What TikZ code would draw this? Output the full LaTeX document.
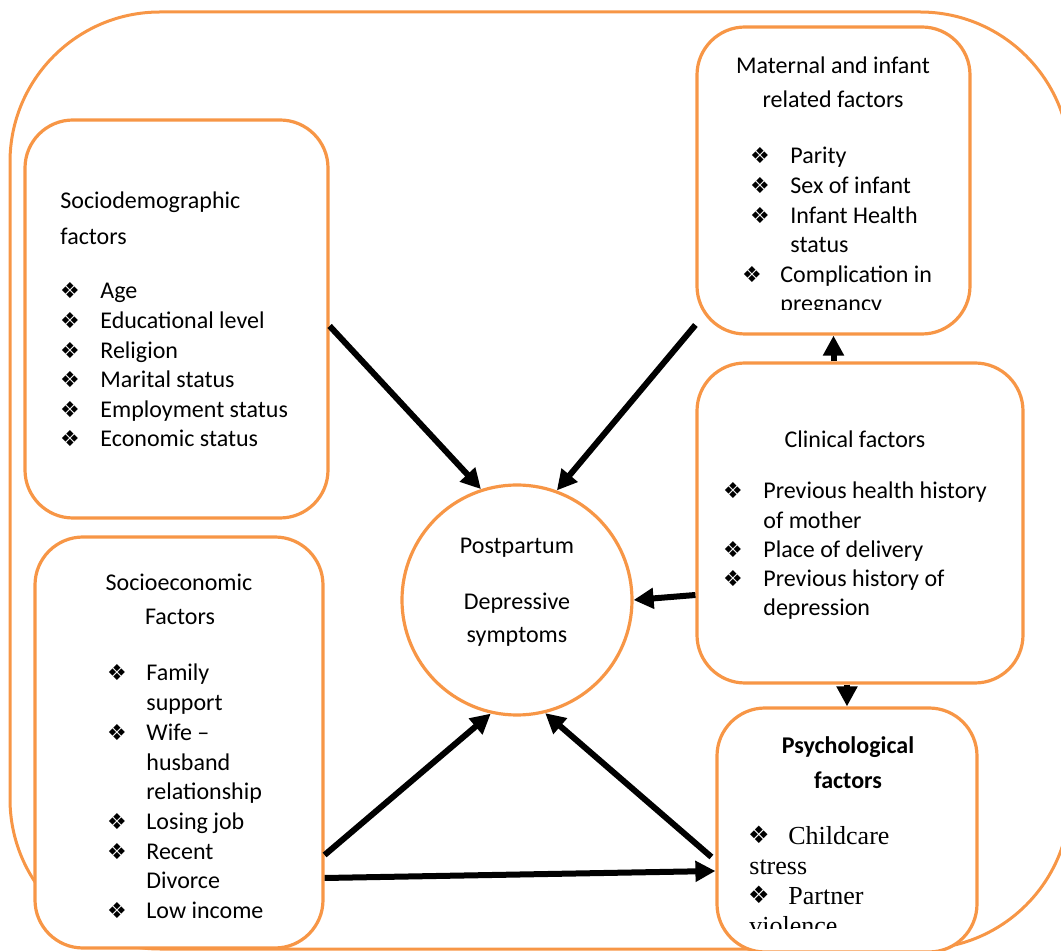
\documentclass[tikz,border=0pt]{standalone}
\usepackage{fontspec}
\setmainfont{Carlito}
\newfontfamily\tnr{Liberation Serif}
\newfontfamily\dvs{DejaVu Sans}
\usetikzlibrary{arrows.meta}
\definecolor{ora}{HTML}{F79646}
\begin{document}
\begin{tikzpicture}[x=0.5pt,y=-0.5pt,
  frame/.style={draw=ora, line width=1.5pt, rounded corners=75pt},
  box/.style={draw=ora, line width=1.6pt, fill=white, rounded corners=24pt, inner sep=0pt},
  arr/.style={line width=3pt, -{Triangle[length=10pt,width=10pt]}},
  txt/.style={anchor=base west, inner sep=0pt, font=\fontsize{12}{14}\selectfont},
  ctr/.style={anchor=base, inner sep=0pt, font=\fontsize{12}{14}\selectfont},
  bul/.style={anchor=base, inner sep=0pt, font=\dvs\fontsize{11}{12}\selectfont},
  tbul/.style={anchor=base, inner sep=0pt, font=\dvs\fontsize{12}{13}\selectfont},
  ttxt/.style={anchor=base west, inner sep=0pt, font=\tnr\fontsize{13}{15}\selectfont}]
\useasboundingbox (0,0) rectangle (1061,951);
\clip (0,0) rectangle (1061,951);
% outer frame
\draw[frame] (10,12) rectangle (1070,949);
% boxes
\node[box, minimum width=151.5pt, minimum height=199pt] (sd) at (176.5,319) {};
\node[box, minimum width=136.5pt, minimum height=153.5pt] (mat) at (833.5,180.5) {};
\node[box, minimum width=163pt, minimum height=160pt] (cl) at (860,523) {};
\node[box, minimum width=130pt, minimum height=122pt] (ps) at (847,830) {};
\node[box, minimum width=144pt, minimum height=205.5pt] (se) at (179,742.5) {};
\node[draw=ora, line width=1.6pt, fill=white, circle, minimum size=115pt, inner sep=0pt] (pp) at (517,600) {};
% arrows
\draw[arr] (sd.east |- 0,326) -- (pp.108);
\draw[arr] (mat.west |- 0,325) -- (pp.70);
\draw[arr] (cl.west |- 0,595) -- (pp.east);
\draw[arr] (se.east |- 0,855) -- (pp.257);
\draw[arr] ([xshift=-2pt]ps.west |- 0,857) -- (pp.284);
\draw[arr] (se.east |- 0,878) -- (ps.west |- 0,871);
\draw[arr] (mat.south |- cl.north) -- (mat.south);
\draw[arr] (ps.north |- cl.south) -- (ps.north);
% sociodemographic
\node[txt] (sdh1) at (60,209) {Sociodemographic};
\node[txt] (sdh2) at (60,245) {factors};
\foreach \t [count=\i from 0] in {Age,Educational level,Religion,Marital status,Employment status,Economic status}{
  \node[bul] (sdb\i) at (70,{299+29.6*\i}) {❖};
  \node[txt] (sdt\i) at (100,{299+29.6*\i}) {\t};
}
% maternal
\node[ctr] (mh1) at (833,74) {Maternal and infant};
\node[ctr] (mh2) at (833,108) {related factors};
\begin{scope}
\clip (690,20) rectangle (980,310);
\node[bul] (mb1) at (760,164) {❖};
\node[txt] (mt1) at (790,164) {Parity};
\node[bul] (mb2) at (760,193.6) {❖};
\node[txt] (mt2) at (790,193.6) {Sex of infant};
\node[bul] (mb3) at (760,223.2) {❖};
\node[txt] (mt3) at (790,223.2) {Infant Health};
\node[txt] (mt4) at (790,252.8) {status};
\node[bul] (mb5) at (752,282.4) {❖};
\node[txt] (mt5) at (780,282.4) {Complication in};
\node[txt] (mt6) at (780,312) {pregnancy};
\end{scope}
% clinical
\node[ctr] (ch) at (855,448) {Clinical factors};
\node[bul] (cb1) at (733,499) {❖};
\node[txt] (ct1) at (763,499) {Previous health history};
\node[txt] (ct2) at (763,528.4) {of mother};
\node[bul] (cb3) at (733,558) {❖};
\node[txt] (ct3) at (763,558) {Place of delivery};
\node[bul] (cb4) at (733,587) {❖};
\node[txt] (ct4) at (763,587) {Previous history of};
\node[txt] (ct5) at (763,616) {depression};
% psychological
\node[ctr, font=\bfseries\fontsize{12}{14}\selectfont] (ph1) at (848,754) {Psychological};
\node[ctr, font=\bfseries\fontsize{12}{14}\selectfont] (ph2) at (848,789) {factors};
\begin{scope}
\clip (700,700) rectangle (990,928);
\node[tbul] (pb1) at (759,843) {❖};
\node[ttxt] (pt1) at (788,845) {Childcare};
\node[ttxt] (pt2) at (749,875) {stress};
\node[tbul] (pb3) at (759,903) {❖};
\node[ttxt] (pt3) at (788,905) {Partner};
\node[ttxt] (pt4) at (749,935) {violence};
\end{scope}
% socioeconomic
\node[ctr] (seh1) at (179,591) {Socioeconomic};
\node[ctr] (seh2) at (180,625) {Factors};
\foreach \t/\b [count=\i from 0] in {Family/1,support/0,{Wife –}/1,husband/0,relationship/0,Losing job/1,Recent/1,Divorce/0,Low income/1}{
  \ifnum\b=1 \node[bul] (seb\i) at (117,{681+29.7*\i}) {❖};\fi
  \node[txt] (set\i) at (146,{681+29.7*\i}) {\t};
}
% circle text
\node[ctr] (pp1) at (517,554) {Postpartum};
\node[ctr] (pp2) at (517,610) {Depressive};
\node[ctr] (pp3) at (517,643) {symptoms};
\end{tikzpicture}
\end{document}
